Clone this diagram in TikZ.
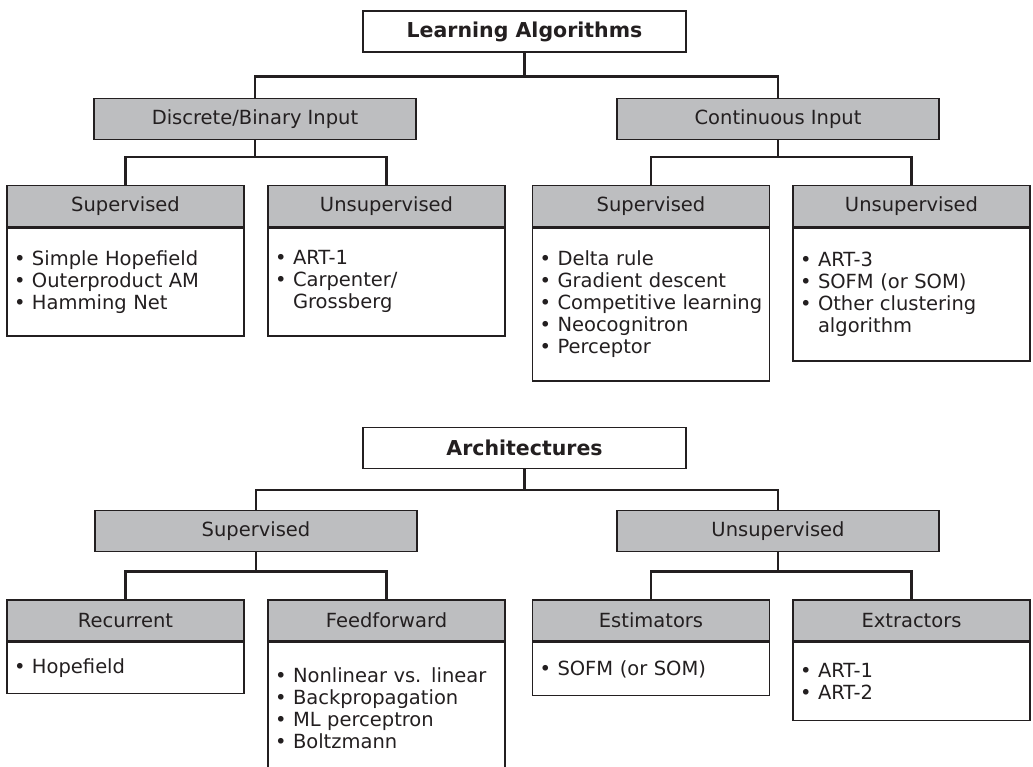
\documentclass[tikz,border=0pt]{standalone}
\usepackage{fontspec}
\setmainfont{DejaVu Sans}
\usepackage{xcolor}
\usetikzlibrary{positioning}

\definecolor{ink}{RGB}{35,31,32}
\definecolor{hdrfill}{RGB}{189,190,192}

\begin{document}
\begin{tikzpicture}[
  every node/.style={font=\fontsize{19.5}{22}\selectfont, text=ink, inner sep=0pt},
  title/.style={draw=ink, line width=1.3pt, fill=white, minimum width=323pt,
                minimum height=41pt, font=\fontsize{20.5}{24}\selectfont\bfseries},
  group/.style={draw=ink, line width=1.3pt, fill=hdrfill, minimum width=322pt,
                minimum height=41pt},
  head/.style={draw=ink, line width=1.3pt, fill=hdrfill, minimum width=237pt,
               minimum height=41pt},
  list/.style={draw=ink, line width=1.3pt, fill=white, text width=223pt,
               inner xsep=7pt, align=left},
  link/.style={draw=ink, line width=2.6pt}
]
\useasboundingbox (0,0) rectangle (1033pt,-767pt);

% learning algorithms
\node[title] (learn) at (524.5pt,-31.5pt) {Learning Algorithms};
\node[group, below=45pt of learn, xshift=-269.5pt] (discrete)   {Discrete/Binary Input};
\node[group, below=45pt of learn, xshift=253.5pt]  (continuous) {Continuous Input};

\node[head, below=45pt of discrete, xshift=-129.5pt]  (dsup)   {Supervised};
\node[head, below=45pt of discrete, xshift=131.5pt]   (dunsup) {Unsupervised};
\node[head, below=45pt of continuous, xshift=-127pt]  (csup)   {Supervised};
\node[head, below=45pt of continuous, xshift=133.5pt] (cunsup) {Unsupervised};

\node[list, minimum height=108pt, below=0pt of dsup] (dsuplist)
      {• Simple Hopefield\\• Outerproduct AM\\• Hamming Net};
\node[list, minimum height=108pt, below=0pt of dunsup] (dunsuplist)
      {• ART-1\\• Carpenter/\\\phantom{• }Grossberg};
\node[list, minimum height=153pt, below=0pt of csup] (csuplist)
      {• Delta rule\\• Gradient descent\\• Competitive learning\\• Neocognitron\\• Perceptor};
\node[list, minimum height=133pt, below=0pt of cunsup] (cunsuplist)
      {• ART-3\\• SOFM (or SOM)\\• Other clustering\\\phantom{• }algorithm};

\draw[link] (learn.south) -- ++(0,-24pt) -| (discrete.north);
\draw[link] (learn.south) -- ++(0,-24pt) -| (continuous.north);
\draw[link] (discrete.south) -- ++(0,-17pt) -| (dsup.north);
\draw[link] (discrete.south) -- ++(0,-17pt) -| (dunsup.north);
\draw[link] (continuous.south) -- ++(0,-17pt) -| (csup.north);
\draw[link] (continuous.south) -- ++(0,-17pt) -| (cunsup.north);

% architectures
\node[title] (arch) at (524.5pt,-448pt) {Architectures};
\node[group, below=41pt of arch, xshift=-268.5pt] (asup)   {Supervised};
\node[group, below=41pt of arch, xshift=253.5pt]  (aunsup) {Unsupervised};

\node[head, below=47pt of asup, xshift=-130.5pt]   (recur)   {Recurrent};
\node[head, below=47pt of asup, xshift=130.5pt]    (feed)    {Feedforward};
\node[head, below=47pt of aunsup, xshift=-127pt]   (estim)   {Estimators};
\node[head, below=47pt of aunsup, xshift=133.5pt]  (extract) {Extractors};

\node[list, minimum height=51pt, below=0pt of recur] (recurlist) {• Hopefield};
\node[list, minimum height=132pt, below=0pt of feed] (feedlist)
      {• Nonlinear vs. linear\\• Backpropagation\\• ML perceptron\\• Boltzmann};
\node[list, minimum height=53pt, below=0pt of estim] (estimlist) {• SOFM (or SOM)};
\node[list, minimum height=78pt, below=0pt of extract] (extractlist)
      {• ART-1\\• ART-2};

\draw[link] (arch.south) -- ++(0,-21pt) -| (asup.north);
\draw[link] (arch.south) -- ++(0,-21pt) -| (aunsup.north);
\draw[link] (asup.south) -- ++(0,-19pt) -| (recur.north);
\draw[link] (asup.south) -- ++(0,-19pt) -| (feed.north);
\draw[link] (aunsup.south) -- ++(0,-19pt) -| (estim.north);
\draw[link] (aunsup.south) -- ++(0,-19pt) -| (extract.north);
\end{tikzpicture}
\end{document}
